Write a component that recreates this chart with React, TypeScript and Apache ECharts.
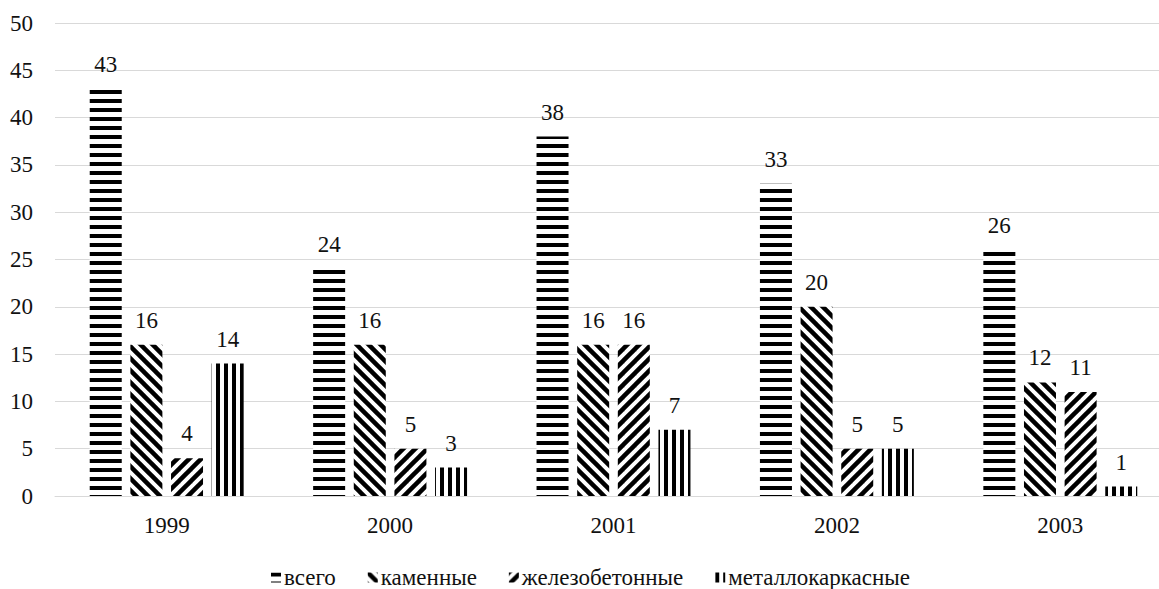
import React, { useEffect, useRef } from "react";
import * as echarts from "echarts";

const categories = ["1999", "2000", "2001", "2002", "2003"];
const seriesNames = ["всего", "каменные", "железобетонные", "металлокаркасные"];
const vsego = [43, 24, 38, 33, 26];
const kamennye = [16, 16, 16, 20, 12];
const zhelezobetonnye = [4, 5, 16, 5, 11];
const metallokarkasnye = [14, 3, 7, 5, 1];
const yTicks = { min: 0, max: 50, interval: 5 };

function makePattern(kind: string): string {
  const size = kind === "h" || kind === "v" ? (kind === "h" ? 9 : 8) : 12;
  const c = document.createElement("canvas");
  c.width = size;
  c.height = size;
  const ctx = c.getContext("2d")!;
  ctx.fillStyle = "#ffffff";
  ctx.fillRect(0, 0, size, size);
  ctx.fillStyle = "#000000";
  ctx.strokeStyle = "#000000";
  if (kind === "h") {
    ctx.fillRect(0, 0, size, 4);
  } else if (kind === "v") {
    ctx.fillRect(0, 0, 4, size);
  } else {
    ctx.lineWidth = 4.5;
    for (let o = -size; o <= size; o += size) {
      ctx.beginPath();
      if (kind === "b") {
        ctx.moveTo(o - 2, -2);
        ctx.lineTo(o + size + 2, size + 2);
      } else {
        ctx.moveTo(o - 2, size + 2);
        ctx.lineTo(o + size + 2, -2);
      }
      ctx.stroke();
    }
  }
  return c.toDataURL();
}

export default function App() {
  const ref = useRef<HTMLDivElement>(null);
  useEffect(() => {
    if (!ref.current) return;
    const chart = echarts.init(ref.current, undefined, { renderer: "svg" });
    const font = "Liberation Serif";
    const pats = ["h", "b", "s", "v"].map((k) => ({
      image: makePattern(k),
      repeat: "repeat",
    }));
    const datas = [vsego, kamennye, zhelezobetonnye, metallokarkasnye];
    chart.setOption({
      animation: false,
      textStyle: { fontFamily: font, fontSize: 23 },
      grid: {
        left: 55,
        width: 1117,
        top: 23,
        bottom: 93,
        containLabel: false,
        outerBoundsMode: "none",
      },
      legend: {
        top: 566,
        left: 271,
        padding: 0,
        icon: "rect",
        itemWidth: 10,
        itemHeight: 10,
        itemGap: 32,
        textStyle: { fontFamily: font, fontSize: 23, color: "#111", padding: [0, 0, 0, -2] },
        data: seriesNames,
      },
      xAxis: {
        type: "category",
        data: categories,
        axisLine: { show: true, lineStyle: { color: "#d9d9d9" } },
        axisTick: { show: false },
        axisLabel: { fontFamily: font, fontSize: 23, color: "#111", margin: 18 },
      },
      yAxis: {
        type: "value",
        min: yTicks.min,
        max: yTicks.max,
        interval: yTicks.interval,
        axisLine: { show: false },
        axisTick: { show: false },
        splitLine: { lineStyle: { color: "#d9d9d9", width: 1 } },
        axisLabel: { fontFamily: font, fontSize: 23, color: "#111", margin: 22 },
      },
      series: seriesNames.map((name, i) => ({
        name,
        type: "bar",
        data: datas[i],
        barWidth: 32,
        barGap: "27%",
        itemStyle: { color: pats[i] },
        label: {
          show: true,
          position: "top",
          distance: 13,
          fontFamily: font,
          fontSize: 23,
          color: "#111",
        },
      })),
    });
    return () => chart.dispose();
  }, []);
  return <div ref={ref} style={{ width: 1159, height: 589, position: "absolute", left: 0, top: 0, overflow: "hidden" }} />;
}
